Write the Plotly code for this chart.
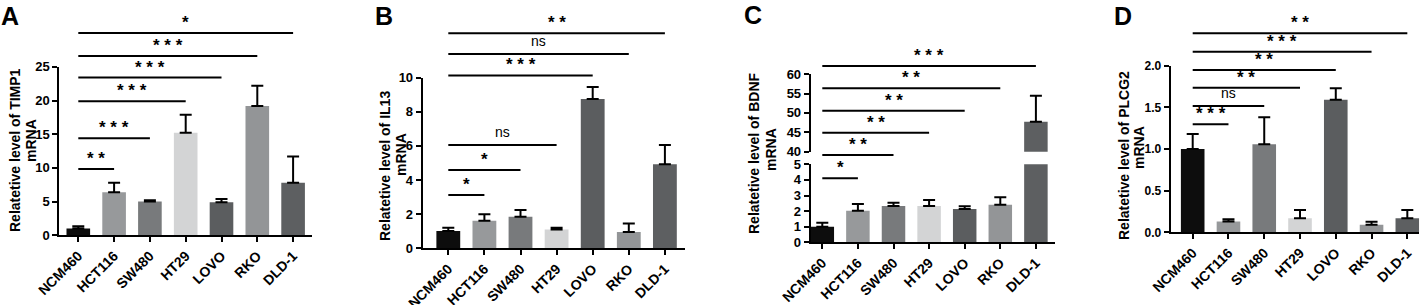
import plotly.graph_objects as go

# ---------------- data ----------------
categories = ["NCM460", "HCT116", "SW480", "HT29", "LOVO", "RKO", "DLD-1"]

timp1_mean = [1.0, 6.4, 5.0, 15.2, 4.9, 19.2, 7.8]
timp1_err = [0.35, 1.4, 0.2, 2.7, 0.5, 3.0, 3.9]
timp1_sig = ["**", "***", "***", "***", "***", "*"]

il13_mean = [1.02, 1.62, 1.85, 1.1, 8.75, 0.95, 4.92]
il13_err = [0.18, 0.38, 0.4, 0.1, 0.7, 0.5, 1.13]
il13_sig = ["*", "*", "ns", "***", "ns", "**"]

bdnf_mean = [1.0, 2.03, 2.33, 2.33, 2.14, 2.41, 47.7]
bdnf_err = [0.26, 0.43, 0.21, 0.38, 0.17, 0.47, 6.7]
bdnf_sig = ["*", "**", "**", "**", "**", "***"]

plcg2_mean = [1.0, 0.13, 1.056, 0.168, 1.59, 0.092, 0.168]
plcg2_err = [0.18, 0.026, 0.324, 0.1, 0.14, 0.036, 0.1]
plcg2_sig = ["***", "ns", "**", "**", "***", "**"]

bar_colors = ["#0d0d0d", "#97999b", "#787a7c", "#d3d4d5", "#5b5d5f", "#939597", "#5d5f61"]

# ---------------- layout helpers ----------------
W, H = 1427, 305
FONT = "Liberation Sans, Arial, sans-serif"
TOP_PX = 6


def fx(p):
    return p / W


def fy(p):
    return 1 - p / H


fig = go.Figure()
layout = dict(
    template="none",
    width=W, height=H, margin=dict(l=0, r=0, t=0, b=0, pad=0), autosize=False,
    paper_bgcolor="white", plot_bgcolor="rgba(0,0,0,0)", showlegend=False,
    barmode="overlay", font=dict(family=FONT, color="black"),
    annotations=[],
)

xs = list(range(len(categories)))


def xaxis_cfg(xl, xr, c0, sp, anchor):
    return dict(
        domain=[fx(xl), fx(xr)], range=[(xl - c0) / sp, (xr - c0) / sp],
        anchor=anchor, automargin=False, showline=True, linewidth=2, linecolor="black",
        ticks="outside", ticklen=5, tickwidth=2, tickcolor="black",
        tickvals=xs, ticktext=categories, tickangle=-45,
        tickfont=dict(size=14, weight="bold", family=FONT, color="black"),
        showgrid=False, zeroline=False, fixedrange=True,
    )


def yaxis_cfg(bot_px, top_px, vmin, vmax, anchor, tickvals, fs=13):
    return dict(
        domain=[fy(bot_px), fy(top_px)], range=[vmin, vmax], anchor=anchor,
        automargin=False, showline=True, linewidth=2, linecolor="black",
        ticks="outside", ticklen=5, tickwidth=2, tickcolor="black",
        tickvals=tickvals, tickfont=dict(size=fs, weight="bold", family=FONT, color="black"),
        showgrid=False, zeroline=False, fixedrange=True,
    )


def hidden_y(bot_px, top_px, vmin, vmax, anchor):
    return dict(domain=[fy(bot_px), fy(top_px)], range=[vmin, vmax], anchor=anchor,
                visible=False, automargin=False, fixedrange=True)


def add_bars(mean, err, xa, ya):
    fig.add_trace(go.Bar(
        x=xs, y=mean, width=0.66, xaxis=xa, yaxis=ya,
        marker=dict(color=bar_colors, line=dict(width=0)),
        error_y=dict(type="data", symmetric=False, array=err, arrayminus=[0] * len(err),
                     color="black", thickness=2, width=6),
        hoverinfo="skip",
    ))


def add_brackets(sig, heights, xa, ya):
    bx, by = [], []
    for i, (lab, h) in enumerate(zip(sig, heights), start=1):
        bx += [0, i, None]
        by += [h, h, None]
        is_ns = lab == "ns"
        layout["annotations"].append(dict(
            x=i / 2, y=h, xref=xa, yref=ya, yanchor="bottom", showarrow=False,
            text=lab if is_ns else " ".join(lab),
            font=dict(size=14 if is_ns else 17, family=FONT, color="black",
                      weight="normal" if is_ns else "bold"),
            yshift=3 if is_ns else -1,
        ))
    fig.add_trace(go.Scatter(x=bx, y=by, mode="lines", xaxis=xa, yaxis=ya,
                             line=dict(color="black", width=2), hoverinfo="skip"))


def add_title(l1, l2, p1, p2):
    for t, (px, py) in ((l1, p1), (l2, p2)):
        layout["annotations"].append(dict(
            x=fx(px), y=fy(py), xref="paper", yref="paper", text=t, textangle=-90,
            showarrow=False, xanchor="center", yanchor="middle",
            font=dict(size=14, weight="bold", family=FONT, color="black")))


def add_letter(t, px, py):
    layout["annotations"].append(dict(
        x=fx(px), y=fy(py), xref="paper", yref="paper", text=t, showarrow=False,
        xanchor="center", yanchor="middle",
        font=dict(size=25, weight="bold", family=FONT, color="black")))


# ---------- Panel A ----------
y0, ppu = 235.3, 6.74
layout["xaxis"] = xaxis_cfg(59.3, 312, 78.3, 35.8, "y")
layout["yaxis"] = yaxis_cfg(y0, y0 - 25 * ppu, 0, 25, "x", [0, 5, 10, 15, 20, 25])
layout["yaxis2"] = hidden_y(y0, TOP_PX, 0, (y0 - TOP_PX) / ppu, "x")
add_bars(timp1_mean, timp1_err, "x", "y")
add_brackets(timp1_sig, [9.84, 14.4, 19.9, 23.4, 26.6, 30.0], "x", "y2")
add_title("Relatetive level of TIMP1", "mRNA", (15, 150), (31, 141))
add_letter("A", 10, 16)

# ---------- Panel B ----------
y0, ppu = 248.3, 17.07
layout["xaxis2"] = xaxis_cfg(422.7, 685, 448.3, 36.1, "y3")
layout["yaxis3"] = yaxis_cfg(y0, y0 - 10 * ppu, 0, 10, "x2", [0, 2, 4, 6, 8, 10])
layout["yaxis4"] = hidden_y(y0, TOP_PX, 0, (y0 - TOP_PX) / ppu, "x2")
add_bars(il13_mean, il13_err, "x2", "y3")
add_brackets(il13_sig, [3.12, 4.59, 6.05, 10.13, 11.38, 12.6], "x2", "y4")
add_title("Relatetive level of IL13", "mRNA", (385, 166), (401, 155))
add_letter("B", 384, 16)

# ---------- Panel C (broken axis) ----------
lo0, lo_ppu = 242.3, 15.6          # lower segment 0..5
up40, up_ppu = 151.7, 3.88         # upper segment 40..60
layout["xaxis3"] = xaxis_cfg(810.7, 1055, 822.3, 35.6, "y5")
layout["yaxis5"] = yaxis_cfg(lo0, lo0 - 5 * lo_ppu, 0, 5, "x3", [0, 1, 2, 3, 4, 5])
layout["yaxis6"] = yaxis_cfg(up40, up40 - 20 * up_ppu, 40, 60, "x3", [40, 45, 50, 55, 60])
layout["yaxis7"] = hidden_y(lo0, TOP_PX, 40 - (lo0 - up40) / up_ppu,
                            40 + (up40 - TOP_PX) / up_ppu, "x3")
add_bars(bdnf_mean, bdnf_err, "x3", "y5")
add_bars(bdnf_mean, bdnf_err, "x3", "y6")
add_brackets(bdnf_sig, [33.14, 39.15, 44.9, 50.57, 56.34, 62.09], "x3", "y7")
add_title("Relatetive level of BDNF", "mRNA", (754, 153), (771, 150))
add_letter("C", 753, 15)

# ---------- Panel D ----------
y0, ppu = 232.3, 83.3
layout["xaxis4"] = xaxis_cfg(1170.7, 1419.3, 1192.7, 35.77, "y8")
layout["yaxis8"] = yaxis_cfg(y0, y0 - 2 * ppu, 0, 2, "x4", [0, 0.5, 1, 1.5, 2], fs=12)
layout["yaxis8"]["tickformat"] = ".1f"
layout["yaxis9"] = hidden_y(y0, TOP_PX, 0, (y0 - TOP_PX) / ppu, "x4")
add_bars(plcg2_mean, plcg2_err, "x4", "y8")
add_brackets(plcg2_sig, [1.296, 1.516, 1.736, 1.948, 2.168, 2.389], "x4", "y9")
add_title("Relatetive level of PLCG2", "mRNA", (1124, 156), (1139, 148))
add_letter("D", 1123, 16)

fig.update_layout(**layout)
fig.write_html(
    "out.html",
    config={"displayModeBar": False},
    post_script="document.body.style.margin='0';document.body.style.overflow='hidden';",
)
